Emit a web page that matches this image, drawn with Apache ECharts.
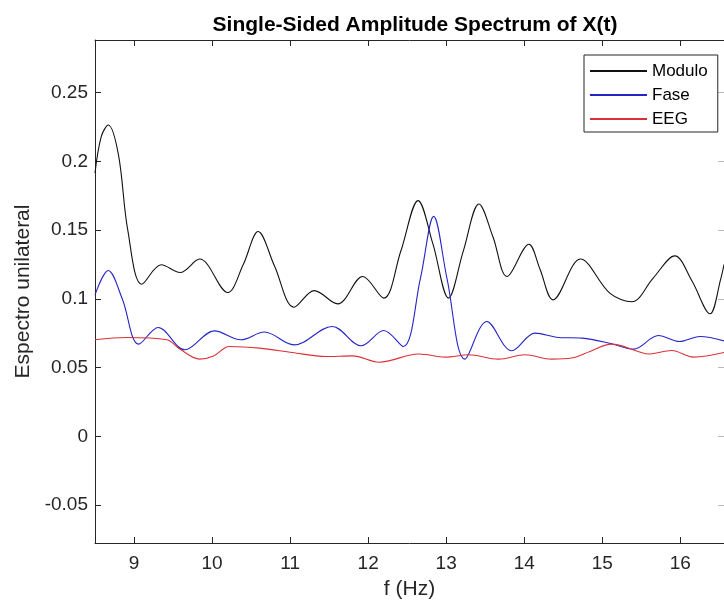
<!DOCTYPE html>
<html>
<head>
<meta charset="utf-8">
<script src="https://cdn.jsdelivr.net/npm/echarts@6/dist/echarts.min.js"></script>
<style>html,body{margin:0;padding:0;background:#fff}#c{width:724px;height:605px}</style>
</head>
<body>
<div id="c"></div>
<script>
// ---- data ----
const xTicks = [9, 10, 11, 12, 13, 14, 15, 16, 17];
const yTicks = [-0.05, 0, 0.05, 0.1, 0.15, 0.2, 0.25];
const fModulo = [8.5, 8.58, 8.67, 8.8, 8.92, 9.1, 9.35, 9.59, 9.84, 10.2, 10.4, 10.59, 10.8, 11.05, 11.31, 11.61, 11.93, 12.2, 12.42, 12.64, 12.83, 13.03, 13.22, 13.42, 13.6, 13.78, 14.06, 14.2, 14.37, 14.72, 15.1, 15.38, 15.65, 15.93, 16.15, 16.38, 16.52, 16.56];
const vModulo = [0.1916, 0.218, 0.2265, 0.205, 0.15, 0.1107, 0.1248, 0.1192, 0.129, 0.1047, 0.125, 0.149, 0.124, 0.094, 0.106, 0.0964, 0.1163, 0.1006, 0.135, 0.1715, 0.14, 0.1006, 0.135, 0.169, 0.145, 0.1163, 0.1398, 0.122, 0.0993, 0.129, 0.104, 0.098, 0.115, 0.1313, 0.113, 0.0892, 0.115, 0.125];
const fFase = [8.5, 8.67, 8.85, 9.06, 9.31, 9.65, 10.03, 10.37, 10.67, 11.05, 11.54, 11.91, 12.2, 12.45, 12.67, 12.84, 13.01, 13.24, 13.52, 13.84, 14.14, 14.44, 14.74, 15.12, 15.4, 15.72, 15.99, 16.25, 16.56];
const vFase = [0.103, 0.1207, 0.1, 0.0671, 0.0792, 0.063, 0.0768, 0.0703, 0.0759, 0.0666, 0.080, 0.0659, 0.077, 0.0654, 0.115, 0.160, 0.115, 0.0562, 0.0836, 0.0623, 0.0751, 0.072, 0.0715, 0.0674, 0.0635, 0.0734, 0.069, 0.0727, 0.0695];
const fEEG = [8.5, 8.9, 9.42, 9.6, 9.84, 10.02, 10.22, 10.61, 11.03, 11.46, 11.8, 12.14, 12.65, 12.99, 13.29, 13.67, 14.01, 14.35, 14.61, 14.85, 15.12, 15.46, 15.59, 15.89, 16.17, 16.56];
const vEEG = [0.0703, 0.072, 0.0703, 0.063, 0.0562, 0.0585, 0.0654, 0.0642, 0.061, 0.0581, 0.0586, 0.054, 0.0599, 0.0577, 0.0594, 0.0562, 0.0594, 0.0562, 0.057, 0.062, 0.0671, 0.0618, 0.0599, 0.0625, 0.0577, 0.061];

const zip = (a, b) => a.map((x, i) => [x, b[i]]);
const FONT = '"Liberation Sans", Arial, sans-serif';
const AX = '#262626';

const chart = echarts.init(document.getElementById('c'), null, {renderer: 'canvas'});
const axisCommon = {
  type: 'value',
  axisLine: {show: true, onZero: false, lineStyle: {color: AX, width: 1}},
  splitLine: {show: false},
};
chart.setOption({
  animation: false,
  backgroundColor: '#fff',
  title: {
    text: 'Single-Sided Amplitude Spectrum of X(t)',
    left: 410, top: 10, textAlign: 'center',
    textStyle: {fontFamily: FONT, fontSize: 21, fontWeight: 'bold', color: '#000'}
  },
  grid: {left: 95, right: -2, top: 40, bottom: 62, containLabel: false},
  legend: {
    orient: 'vertical', left: 584, top: 55,
    padding: [6, 10, 3, 6], itemGap: 4, itemWidth: 57, itemHeight: 2,
    icon: 'rect',
    backgroundColor: '#fff', borderColor: AX, borderWidth: 1,
    textStyle: {fontFamily: FONT, fontSize: 17, color: '#000', lineHeight: 20},
    data: ['Modulo', 'Fase', 'EEG']
  },
  xAxis: [
    Object.assign({}, axisCommon, {
      position: 'bottom', min: 8.5, max: 16.56,
      name: 'f (Hz)', nameLocation: 'middle', nameGap: 36,
      nameTextStyle: {fontFamily: FONT, fontSize: 21, color: AX},
      axisTick: {show: true, inside: true, length: 6, lineStyle: {color: AX}, customValues: xTicks},
      axisLabel: {show: true, margin: 11, fontFamily: FONT, fontSize: 19, color: AX, customValues: xTicks}
    }),
    Object.assign({}, axisCommon, {
      position: 'top', min: 8.5, max: 16.56,
      axisTick: {show: true, inside: true, length: 6, lineStyle: {color: AX}, customValues: xTicks},
      axisLabel: {show: false}
    })
  ],
  yAxis: [
    Object.assign({}, axisCommon, {
      position: 'left', min: -0.0775, max: 0.2883,
      name: 'Espectro unilateral', nameLocation: 'middle', nameGap: 61,
      nameTextStyle: {fontFamily: FONT, fontSize: 21, color: AX},
      axisTick: {show: true, inside: true, length: 6, lineStyle: {color: AX}, customValues: yTicks},
      axisLabel: {show: true, margin: 7, fontFamily: FONT, fontSize: 19, color: AX, customValues: yTicks,
        formatter: v => String(Math.round(v * 100) / 100)}
    }),
    Object.assign({}, axisCommon, {
      position: 'right', min: -0.0775, max: 0.2883,
      axisTick: {show: true, inside: true, length: 6, lineStyle: {color: '#bbb'}, customValues: yTicks},
      axisLabel: {show: false}
    })
  ],
  series: [
    {name: 'Modulo', type: 'line', data: zip(fModulo, vModulo), smooth: 0.35, showSymbol: false, symbol: 'none',
      lineStyle: {color: '#111', width: 1.1}, itemStyle: {color: '#111'}, clip: true},
    {name: 'Fase', type: 'line', data: zip(fFase, vFase), smooth: 0.35, showSymbol: false, symbol: 'none',
      lineStyle: {color: '#2424c8', width: 1.1}, itemStyle: {color: '#2424c8'}, clip: true},
    {name: 'EEG', type: 'line', data: zip(fEEG, vEEG), smooth: 0.35, showSymbol: false, symbol: 'none',
      lineStyle: {color: '#dc3038', width: 1.1}, itemStyle: {color: '#dc3038'}, clip: true}
  ]
});
</script>
</body>
</html>
